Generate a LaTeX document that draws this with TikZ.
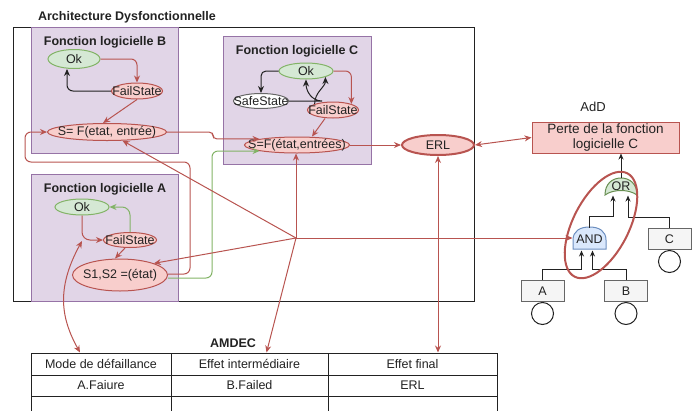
\documentclass[tikz,border=0pt]{standalone}
\usepackage{fontspec}
\setmainfont{Liberation Sans}
\usetikzlibrary{shapes.geometric,arrows.meta}
\definecolor{redf}{HTML}{F8CECC}\definecolor{redd}{HTML}{B85450}
\definecolor{greenf}{HTML}{D5E8D4}\definecolor{greend}{HTML}{82B366}
\definecolor{purpf}{HTML}{E1D5E7}\definecolor{purpd}{HTML}{9673A6}
\definecolor{bluef}{HTML}{DAE8FC}\definecolor{blued}{HTML}{6C8EBF}
\definecolor{grayf}{HTML}{F5F5F5}\definecolor{grayd}{HTML}{666666}
\definecolor{txt}{HTML}{222222}
\begin{document}
\begin{tikzpicture}[x=1pt,y=-1pt,line width=1pt,font=\fontsize{12.5}{14}\selectfont,text=txt,
  st/.style={ellipse,draw=redd,fill=redf,inner sep=0pt},
  okst/.style={ellipse,draw=greend,fill=greenf,inner sep=0pt},
  fn/.style={draw=purpd,fill=purpf},
  ttl/.style={font=\fontsize{12.5}{14}\selectfont\bfseries},
  arw/.style={-{Stealth[length=7pt,width=6pt]}},
  rarr/.style={draw=redd,arw}, garr/.style={draw=greend,arw}, karr/.style={draw=txt,arw},
  tarr/.style={draw=txt,-{Stealth[length=6pt,width=5pt]}},
  rdbl/.style={draw=redd,{Stealth[length=7pt,width=6pt]}-{Stealth[length=7pt,width=6pt]}},
  cell/.style={draw=txt,minimum height=22pt,inner sep=0pt},
  ev/.style={draw=grayd,fill=grayf,minimum width=43pt,minimum height=21pt,inner sep=0pt}]
\useasboundingbox (0,0) rectangle (696,410); \clip (0,0) rectangle (696,410);
\node[ttl] (archT) at (127,17) {Architecture Dysfonctionnelle};
\draw[draw=txt] (13,27) rectangle (474,301);
\draw[fn] (31,27) rectangle (178,153); \draw[fn] (223,36) rectangle (371,164); \draw[fn] (31,174) rectangle (178,301);
\node[ttl] (fnBT) at (105,42) {Fonction logicielle B}; \node[ttl] (fnCT) at (297,51) {Fonction logicielle C}; \node[ttl] (fnAT) at (105,189) {Fonction logicielle A};
\node[okst,minimum width=52pt,minimum height=19pt,label=center:Ok] (okB) at (74,59) {};
\node[st,minimum width=51pt,minimum height=16pt,label=center:FailState] (failB) at (137,91) {};
\node[st,minimum width=119pt,minimum height=17pt,label={center:S= F(etat, entrée)}] (sB) at (107,132) {};
\draw[rarr,rounded corners=6] (okB.east) -| (failB.north); \draw[karr,rounded corners=6] (failB.west) -| ([xshift=-7pt]okB.south);
\draw[rarr] (failB.south) -- ([xshift=-4pt]sB.north);
\node[okst,minimum width=54pt,minimum height=16pt,label=center:Ok] (okC) at (306,71) {};
\node[ellipse,draw=grayd,fill=white,inner sep=0pt,minimum width=55pt,minimum height=15pt,label=center:SafeState] (safeC) at (261,101) {};
\node[st,minimum width=51pt,minimum height=16pt,label=center:FailState] (failC) at (333,110) {};
\node[st,minimum width=105pt,minimum height=16pt,label={center:S=F(état,entrées)}] (sC) at (297,145) {};
\draw[rarr,rounded corners=6] (okC.east) -| (failC.north east); \draw[karr,rounded corners=5] (okC.west) -| (safeC.north);
\draw[karr] (safeC.east) -- ++(33,0) .. controls +(-10,0) and +(0,12) .. (okC.south);
\draw[karr] (failC.north west) .. controls +(0,-12) and +(0,10) .. (okC.south east);
\draw[rarr] ([xshift=-8pt]failC.south) -- ([xshift=15pt]sC.north);
\node[okst,minimum width=54pt,minimum height=16pt,label=center:Ok] (okA) at (82,207) {};
\node[st,minimum width=53pt,minimum height=15pt,label=center:FailState] (failA) at (130,240) {};
\node[st,minimum width=95pt,minimum height=32pt,label={center:S1,S2 =(état)}] (sA) at (120,275) {};
\draw[rarr,rounded corners=8] (okA.south) |- (failA.west); \draw[garr,rounded corners=8] (failA.north) |- (okA.east);
\draw[rarr] ([xshift=-5pt]failA.south) -- ([xshift=-5pt]sA.north);
\draw[rarr,rounded corners=6] ([yshift=1pt]sA.east) -- ++(22,0) |- ++(-165,-112) |- (sB.west);
\draw[garr,rounded corners=6] ([yshift=-3pt]sA.east) -- ++(44,0) |- (sC.south west);
\draw[rarr,rounded corners=4] (sB.east) -- ++(46,0) |- (sC.north west);
\node[st,line width=2pt,minimum width=72pt,minimum height=20pt,label=center:ERL] (erl) at (438,145) {};
\node[font=\fontsize{13}{15}\selectfont] (addT) at (593,107) {AdD};
\node[draw=redd,fill=redf,minimum width=147pt,minimum height=31pt,inner sep=0pt,align=center,font=\fontsize{13.5}{15}\selectfont] (perte) at (605.5,137.5) {Perte de la fonction\\logicielle C};
\draw[rarr] (sC.east) -- (erl.west); \draw[rdbl] (erl.east) -- (perte.west);
\node[ttl] (amdecT) at (233,343) {AMDEC};
\foreach \c/\x/\w/\hd/\rw in {Mode/101/140/Mode de défaillance/A.Faiure, Inter/249.5/157/Effet intermédiaire/B.Failed, Final/412.5/169/Effet final/ERL} {\node[cell,minimum width=\w pt] (h\c) at (\x,364) {\hd}; \node[cell,minimum width=\w pt,minimum height=21pt] (r\c) at (\x,385.5) {\rw}; \node[cell,minimum width=\w pt] (e\c) at (\x,407) {};}
\draw[greend!80!black,fill=greenf] (605,195) .. controls (613,189) and (629,189) .. (637,195) .. controls (637,184) and (630,178) .. (621,178) .. controls (612,178) and (605,184) .. (605,195) -- cycle;
\node[inner sep=0pt,minimum width=32pt,minimum height=17pt] (orG) at (621,186.5) {OR};
\draw[blued,fill=bluef] (573,249) -- (573,240) .. controls (573,231) and (580,227) .. (589.5,227) .. controls (599,227) and (606,231) .. (606,240) -- (606,249) -- cycle;
\node[inner sep=0pt,minimum width=33pt,minimum height=22pt] (andG) at (589.5,239) {AND};
\foreach \n/\x/\y in {A/542.5/291,B/626/291,C/669.5/239} {\node[ev] (ev\n) at (\x,\y) {\n}; \node[circle,draw=txt,minimum size=22pt,inner sep=0pt,anchor=north] (cir\n) at (ev\n.south) {};}
\draw[tarr] (andG.north) -- ++(0,-11) -| ([xshift=-8pt]orG.south); \draw[tarr] (evC.north) -- ++(0,-11) -| ([xshift=7pt]orG.south);
\draw[tarr] (evA.north) -- ++(0,-11) -| ([xshift=-8pt]andG.south); \draw[tarr] (evB.north) -- ++(0,-11) -| ([xshift=3pt]andG.south);
\draw[tarr] (orG.north) -- (orG.north |- perte.south);
\coordinate (hub) at (296,238); \coordinate (modeA) at (82,241);
\foreach \t in {sB, sA.north east, hub |- sC.south, hub -| andG.west} \draw[rarr] (hub) -- (\t);
\draw[rarr] (hub) -- ([xshift=17pt]hInter.north);
\draw[rdbl] (modeA) .. controls (55,290) and (62,320) .. ([xshift=-21pt]hMode.north);
\draw[rdbl] (erl.south) -- (erl.south |- hFinal.north);
\draw[redd,line width=2pt,rotate around={63:(601,225)}] (601,225) ellipse [x radius=58, y radius=28];
\end{tikzpicture}
\end{document}
